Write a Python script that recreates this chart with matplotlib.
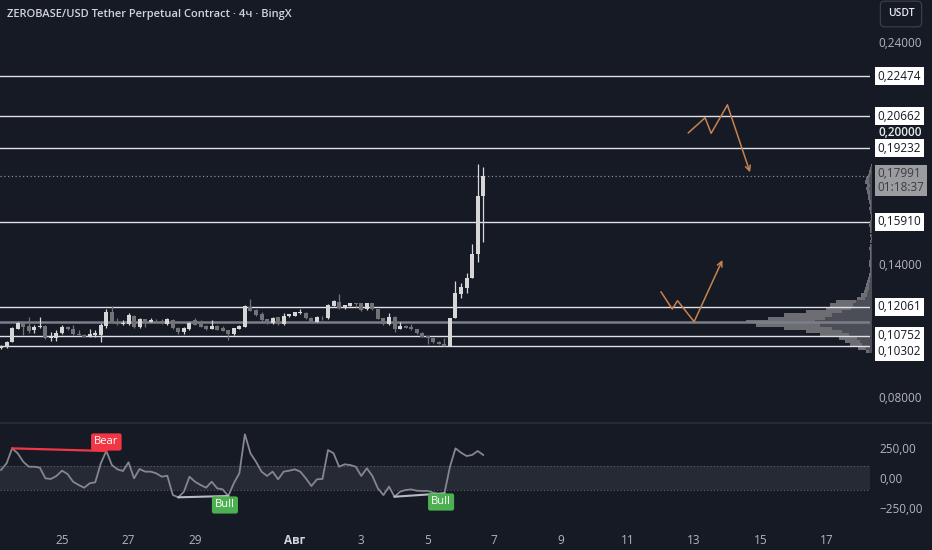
import numpy as np
import pandas as pd
import matplotlib
matplotlib.use("Agg")
import matplotlib.pyplot as plt
import matplotlib.dates as mdates
from matplotlib.lines import Line2D
from matplotlib.transforms import blended_transform_factory, offset_copy

plt.rcParams['font.family'] = ['Open Sans', 'DejaVu Sans']

# ---------------- data ----------------
start_time = "2025-07-23 04:00"
opens = [0.10197, 0.10242, 0.10497, 0.11083, 0.11324, 0.11204, 0.11023, 0.11144, 0.11219, 0.10648,
         0.10648, 0.10873, 0.11174, 0.11068, 0.10828, 0.10798, 0.10753, 0.10798, 0.10798, 0.11219,
         0.11835, 0.11399, 0.11279, 0.11279, 0.11670, 0.11144, 0.11519, 0.11399, 0.11444, 0.11444,
         0.11279, 0.11474, 0.11129, 0.10948, 0.11053, 0.11474, 0.11324, 0.11204, 0.11068, 0.11204,
         0.11098, 0.11023, 0.10828, 0.11083, 0.11174, 0.12076, 0.11925, 0.11730, 0.11504, 0.11324,
         0.11595, 0.11279, 0.11640, 0.11655, 0.11775, 0.11805, 0.11580, 0.11399, 0.11625, 0.11550,
         0.12106, 0.12301, 0.12000, 0.12121, 0.12226, 0.12226, 0.11955, 0.12226, 0.11970, 0.11550,
         0.11279, 0.11625, 0.11068, 0.11204, 0.11144, 0.11068, 0.10903, 0.10753, 0.10648, 0.10497,
         0.10392, 0.10302, 0.11550, 0.12647, 0.12931, 0.13355, 0.14451, 0.17068]
highs = [0.10330, 0.10520, 0.11174, 0.11399, 0.11399, 0.11595, 0.11249, 0.11595, 0.11240, 0.10948,
         0.11023, 0.11249, 0.11200, 0.11249, 0.11023, 0.10830, 0.11068, 0.11023, 0.11324, 0.11955,
         0.12106, 0.11550, 0.11474, 0.11775, 0.11700, 0.11550, 0.11540, 0.11580, 0.11535, 0.11504,
         0.11580, 0.11500, 0.11150, 0.11174, 0.11380, 0.11550, 0.11474, 0.11230, 0.11474, 0.11230,
         0.11219, 0.11040, 0.11120, 0.11230, 0.12130, 0.12421, 0.11950, 0.11850, 0.11530, 0.11600,
         0.11620, 0.11775, 0.11760, 0.11850, 0.11955, 0.11830, 0.11600, 0.11650, 0.11640, 0.12180,
         0.12370, 0.12647, 0.12170, 0.12250, 0.12240, 0.12250, 0.12250, 0.12250, 0.11990, 0.11570,
         0.11775, 0.11640, 0.11369, 0.11230, 0.11279, 0.11090, 0.10920, 0.10770, 0.10670, 0.10510,
         0.10648, 0.11580, 0.13247, 0.13156, 0.13580, 0.14888, 0.18511, 0.18389]
lows = [0.10170, 0.10230, 0.10480, 0.11070, 0.10798, 0.10873, 0.10873, 0.11130, 0.10620, 0.10542,
        0.10542, 0.10860, 0.11030, 0.10810, 0.10780, 0.10700, 0.10693, 0.10723, 0.10467, 0.11098,
        0.11330, 0.11260, 0.11260, 0.11260, 0.11098, 0.11120, 0.11174, 0.11380, 0.11400, 0.11294,
        0.11260, 0.11080, 0.10828, 0.10828, 0.11030, 0.11230, 0.11150, 0.11030, 0.11050, 0.11000,
        0.10970, 0.10572, 0.10810, 0.11060, 0.11150, 0.11860, 0.11660, 0.11450, 0.11300, 0.11300,
        0.11250, 0.11250, 0.11620, 0.11640, 0.11760, 0.11530, 0.11380, 0.11380, 0.11474, 0.11520,
        0.12090, 0.11980, 0.11980, 0.12100, 0.12076, 0.11900, 0.11930, 0.11930, 0.11500, 0.11270,
        0.11260, 0.10948, 0.11050, 0.11110, 0.11030, 0.10850, 0.10700, 0.10377, 0.10450, 0.10370,
        0.10290, 0.10280, 0.11550, 0.12452, 0.12678, 0.13355, 0.14104, 0.15006]
closes = [0.10302, 0.10497, 0.11098, 0.11324, 0.11174, 0.10993, 0.11174, 0.11219, 0.10648, 0.10723,
          0.10903, 0.11174, 0.11053, 0.10828, 0.10798, 0.10723, 0.10828, 0.10873, 0.11249, 0.11835,
          0.11354, 0.11279, 0.11354, 0.11700, 0.11144, 0.11519, 0.11399, 0.11474, 0.11414, 0.11369,
          0.11504, 0.11098, 0.10948, 0.11098, 0.11354, 0.11249, 0.11174, 0.11053, 0.11219, 0.11023,
          0.10993, 0.10828, 0.11098, 0.11204, 0.12106, 0.11880, 0.11685, 0.11474, 0.11324, 0.11580,
          0.11279, 0.11655, 0.11730, 0.11820, 0.11835, 0.11550, 0.11399, 0.11625, 0.11595, 0.12151,
          0.12346, 0.12000, 0.12151, 0.12226, 0.12181, 0.11925, 0.12226, 0.11955, 0.11519, 0.11294,
          0.11625, 0.11068, 0.11219, 0.11129, 0.11053, 0.10873, 0.10723, 0.10648, 0.10467, 0.10392,
          0.10302, 0.11550, 0.12692, 0.12962, 0.13382, 0.14451, 0.17068, 0.17991]

cci = [67, 122, 247, 206, 136, 94, 94, 86, -3, -8,
       17, 61, 33, -31, -58, -81, -44, -36, 122, 225,
       108, 72, 58, 131, -3, 75, 53, 53, 39, 11,
       19, -142, -161, -114, 11, -31, -58, -81, -31, -86,
       -95, -150, -44, 39, 364, 206, 136, 53, 17, 53,
       -11, 53, 61, 72, 53, -3, -67, -11, -8, 233,
       206, 94, 114, 108, 94, 17, 81, 17, -86, -142,
       -72, -156, -114, -100, -95, -106, -108, -108, -122, -133,
       -128, 94, 247, 211, 183, 192, 225, 192]

levels = [0.22474, 0.20662, 0.19232, 0.15910, 0.12061, 0.10752, 0.10302]
poc_level = 0.1138
last_price = 0.17991
countdown = "01:18:37"

vp_prices = [0.1005, 0.1020, 0.1035, 0.1050, 0.1065, 0.1080, 0.1095, 0.1110, 0.1125, 0.1140,
             0.1155, 0.1170, 0.1185, 0.1200, 0.1215, 0.1230, 0.1245, 0.1260, 0.1275, 0.1290,
             0.1305, 0.1320, 0.1335, 0.1350, 0.1365, 0.1380, 0.1395, 0.1410, 0.1425, 0.1440,
             0.1455, 0.1470, 0.1485, 0.1500, 0.1515, 0.1530, 0.1545, 0.1560, 0.1575, 0.1590,
             0.1605, 0.1620, 0.1635, 0.1650, 0.1665, 0.1680, 0.1695, 0.1710, 0.1725, 0.1740,
             0.1755, 0.1770, 0.1785, 0.1800, 0.1815, 0.1830, 0.1845]
vp_volume = [6, 14, 22, 27, 33, 52, 66, 88, 116, 126,
             104, 88, 66, 46, 42, 36, 15, 11, 8, 7,
             6, 5, 4, 3, 2, 2, 3, 3, 2, 2,
             2, 3, 2, 2, 1, 2, 2, 2, 3, 2,
             1, 1, 2, 3, 2, 3, 4, 4, 5, 6,
             5, 7, 6, 4, 3, 2, 1]

path_up_times = ["2025-08-12 19:55", "2025-08-13 08:10", "2025-08-13 12:30", "2025-08-14 00:15", "2025-08-14 16:35"]
path_up_prices = [0.19910, 0.20600, 0.19896, 0.21173, 0.18137]
path_lo_times = ["2025-08-12 00:15", "2025-08-12 08:25", "2025-08-12 12:15", "2025-08-13 00:15", "2025-08-13 20:40"]
path_lo_prices = [0.12750, 0.11970, 0.12344, 0.11397, 0.14180]

bear_div = (2, 19)
bull_divs = [(32, 41), (71, 80)]

xtick_dates = ["2025-07-25", "2025-07-27", "2025-07-29", "2025-08-01", "2025-08-03", "2025-08-05",
               "2025-08-07", "2025-08-09", "2025-08-11", "2025-08-13", "2025-08-15", "2025-08-17"]
xtick_labels = ["25", "27", "29", "Авг", "3", "5", "7", "9", "11", "13", "15", "17"]
price_ticks = [0.08, 0.14, 0.20, 0.24]
cci_ticks = [250, 0, -250]
cci_tick_labels = ["250,00", "0,00", "\u2212250,00"]

title = "ZEROBASE/USD Tether Perpetual Contract · 4ч · BingX"

# ---------------- style ----------------
BG = '#161a25'
TXT = '#b2b5be'
BULL = '#d6d6d6'
BEAR = '#727376'
LINE = '#dfe1e6'
W, H = 932, 550

fig = plt.figure(figsize=(9.32, 5.5), dpi=100, facecolor=BG)

def rect(x0, y0, x1, y1):
    return [x0 / W, 1 - y1 / H, (x1 - x0) / W, (y1 - y0) / H]

times = pd.date_range(start_time, periods=len(closes), freq="4h")
x = mdates.date2num(times)
xlim = mdates.date2num(pd.to_datetime(["2025-07-23 03:15", "2025-08-18 07:10"]))
ylim = (0.06872, 0.25910)

# volume profile axes (behind)
ax_vp = fig.add_axes(rect(0, 0, 872, 422), zorder=0)
ax_vp.set_facecolor(BG)
ax_vp.set_xlim(872, 0)
ax_vp.set_ylim(*ylim)
vp_v = np.array(vp_volume, dtype=float)
ax_vp.barh(vp_prices, vp_v, height=0.00148, left=0, color='#4b4e56', linewidth=0)
ax_vp.barh(vp_prices, vp_v * 0.55, height=0.00148, left=vp_v * 0.45, color='#6c6e74', linewidth=0)
ax_vp.axis('off')

# main price axes
ax = fig.add_axes(rect(0, 0, 870, 422), zorder=1)
ax.set_facecolor('none')
ax.set_xlim(*xlim)
ax.set_ylim(*ylim)
for s in ax.spines.values():
    s.set_visible(False)

o = np.array(opens); h = np.array(highs); l = np.array(lows); c = np.array(closes)
bull = c >= o
cols = np.where(bull, BULL, BEAR)
ax.vlines(x, l, h, colors=cols, linewidth=0.9, zorder=3)
body_b = np.minimum(o, c)
body_h = np.maximum(np.abs(c - o), 0.00025)
ax.bar(x, body_h, bottom=body_b, width=0.12, color=cols, linewidth=0, zorder=4)

for lv in levels:
    ax.axhline(lv, color=LINE, lw=1.0, zorder=2)
ax.axhline(poc_level, color='#7c7f88', lw=1.8, zorder=1.5)
ax.axhline(last_price, color='#8a8d96', lw=0.9, ls=(0, (1, 2)), zorder=2)

# paths with arrows
PATHC = '#c5844f'
for tt, pp in [(path_up_times, path_up_prices), (path_lo_times, path_lo_prices)]:
    px = mdates.date2num(pd.to_datetime(tt))
    ax.plot(px[:-1], pp[:-1], color=PATHC, lw=1.1, zorder=5, solid_capstyle='round')
    ax.annotate("", xy=(px[-1], pp[-1]), xytext=(px[-2], pp[-2]),
                arrowprops=dict(arrowstyle='->', color=PATHC, lw=1.1, shrinkA=0, shrinkB=0,
                                mutation_scale=9), zorder=5)

ax.yaxis.tick_right()
ax.set_yticks(price_ticks)
ax.set_yticklabels([f"{v:.5f}".replace('.', ',') for v in price_ticks])
ax.tick_params(axis='y', length=0, pad=6, labelsize=8.5, labelcolor=TXT)
ax.tick_params(axis='x', length=0, labelbottom=False)
for lab, v in zip(ax.get_yticklabels(), price_ticks):
    if abs(v - 0.20) < 1e-9:
        lab.set_color('#e6e8ee')
        lab.set_fontweight('semibold')

# right-side level labels
tr = blended_transform_factory(fig.transFigure, ax.transData)
for lv in levels:
    dy = -6 if lv == 0.10302 else 0
    t = offset_copy(tr, fig=fig, x=0, y=dy, units='dots')
    fig.text(877.5 / W, lv, f"{lv:.5f}".replace('.', ','), transform=t, ha='left', va='center',
             fontsize=8.5, color='#131722', zorder=10,
             bbox=dict(boxstyle='square,pad=0.22', fc='white', ec='none'))
t = offset_copy(tr, fig=fig, x=0, y=-5, units='dots')
fig.text(877.5 / W, last_price, f"{last_price:.5f}".replace('.', ',') + "\n" + countdown,
         transform=t, ha='left', va='center', fontsize=8.5, color='#3a3c42', linespacing=1.05,
         zorder=10, bbox=dict(boxstyle='square,pad=0.22', fc='#9b9ca0', ec='none'))

# CCI axes
axc = fig.add_axes(rect(0, 423, 870, 522), zorder=1)
axc.set_facecolor(BG)
axc.set_xlim(*xlim)
axc.set_ylim(-366.7, 458.3)
for s in axc.spines.values():
    s.set_visible(False)
axc.axhspan(-100, 100, color='#262a35', zorder=0, lw=0)
axc.axhline(100, color='#5d606b', lw=0.8, ls=(0, (1, 2)), zorder=1)
axc.axhline(-100, color='#5d606b', lw=0.8, ls=(0, (1, 2)), zorder=1)
axc.plot(x, cci, color='#85878c', lw=1.3, zorder=3)

i0, i1 = bear_div
axc.plot([x[i0], x[i1]], [cci[i0], cci[i1]], color='#f23645', lw=1.6, zorder=4)
axc.text(x[i1], 300, "Bear", ha='center', va='center', fontsize=8, color='white', zorder=6,
         bbox=dict(boxstyle='round,pad=0.28,rounding_size=0.2', fc='#f23645', ec='none'))
for (j0, j1), ly in zip(bull_divs, [-225, -200]):
    axc.plot([x[j0], x[j1]], [cci[j0], cci[j1]], color='#b8bbc2', lw=1.5, zorder=4)
    axc.text(x[j1] - 0.1, ly, "Bull", ha='center', va='center', fontsize=8, color='white', zorder=6,
             bbox=dict(boxstyle='round,pad=0.28,rounding_size=0.2', fc='#4caf50', ec='none'))

axc.yaxis.tick_right()
axc.set_yticks(cci_ticks)
axc.set_yticklabels(cci_tick_labels)
axc.tick_params(axis='y', length=0, pad=7, labelsize=8.5, labelcolor=TXT)
axc.set_xticks(mdates.date2num(pd.to_datetime(xtick_dates)))
axc.set_xticklabels(xtick_labels)
axc.tick_params(axis='x', length=0, pad=9, labelsize=8.5, labelcolor=TXT)
for lab, txt in zip(axc.get_xticklabels(), xtick_labels):
    if txt == "Авг":
        lab.set_fontweight('bold')
        lab.set_color('#d1d4dc')

# pane separator
fig.add_artist(Line2D([0, 1], [1 - 422.5 / H, 1 - 422.5 / H], transform=fig.transFigure,
                      color='#2a2e39', lw=1.2))

# title and currency box
fig.text(7 / W, 1 - 14 / H, title, ha='left', va='center', fontsize=8, color='#d1d4dc',
         fontweight='semibold')
fig.text(901 / W, 1 - 14 / H, "USDT", ha='center', va='center', fontsize=7.5, color='#e6e8ee',
         fontweight='semibold',
         bbox=dict(boxstyle='round,pad=0.7,rounding_size=0.4', fc='#161a25', ec='#3a3e4a', lw=0.9))

fig.savefig("out.png", dpi=100, facecolor=BG)
